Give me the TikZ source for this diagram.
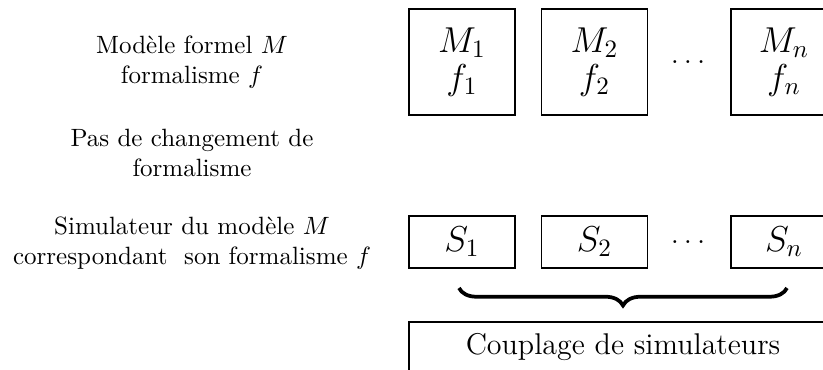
\documentclass[tikz,border=0pt]{standalone}
\usetikzlibrary{decorations.pathreplacing}
\begin{document}
\begin{tikzpicture}[x=0.4pt,y=-0.4pt,
  box/.style={draw, line width=0.5pt, inner sep=0pt, minimum width=42.4pt, align=center},
  mbox/.style={box, minimum height=42.4pt, font=\Large},
  sbox/.style={box, minimum height=20.8pt, font=\Large},
  lbl/.style={align=center, inner sep=0pt},
  dotsn/.style={inner sep=0pt, font=\large},
  bracel/.style={decorate, decoration={brace, mirror, amplitude=7pt}, line width=1.5pt}]
\useasboundingbox (0,0) rectangle (823,370);
% left labels
\node[lbl] (t1) at (192,62) {Modèle formel $M$\\formalisme $f$};
\node[lbl] (t2) at (192,153) {Pas de changement de\\formalisme};
\node[lbl] (t3) at (192,243) {Simulateur du modèle $M$\\correspondant \ son formalisme $f$};
% model boxes
\node[mbox] (m1) at (462,62) {$M_1$\\[-3.2pt]$f_1$};
\node[mbox] (m2) at (594.5,62) {$M_2$\\[-3.2pt]$f_2$};
\node[dotsn] (md) at (688,62) {$\ldots$};
\node[mbox] (mn) at (784,62) {$M_n$\\[-3.2pt]$f_n$};
% simulator boxes
\node[sbox] (s1) at (462,242) {$S_1$};
\node[sbox] (s2) at (594.5,242) {$S_2$};
\node[dotsn] (sd) at (688,242) {$\ldots$};
\node[sbox] (sn) at (784,242) {$S_n$};
% brace
\coordinate (b1) at (459,288);
\coordinate (b2) at (787,288);
\draw[bracel] (b1) -- (b2);
% coupling box
\node[box, font=\large, minimum width=171.2pt, minimum height=20pt] (c) at (623,347) {Couplage de simulateurs};
\end{tikzpicture}
\end{document}
